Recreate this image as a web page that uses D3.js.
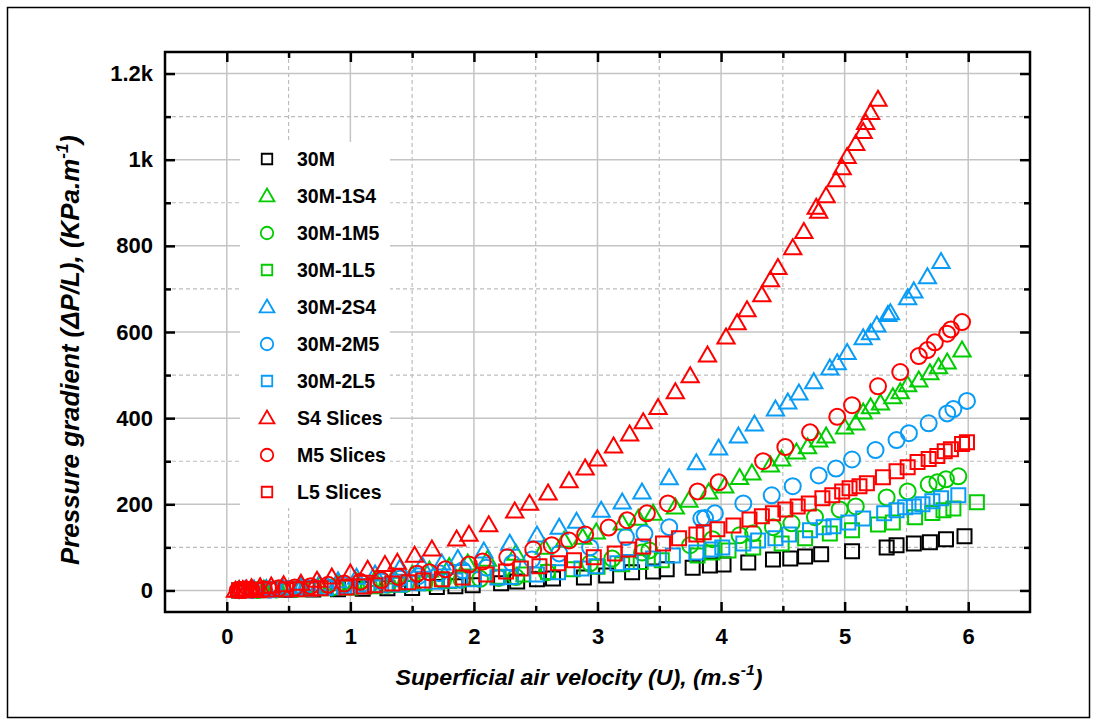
<!DOCTYPE html>
<html>
<head>
<meta charset="utf-8">
<script src="https://cdn.jsdelivr.net/npm/d3@7"></script>
<style>
  body { margin: 0; background: #fff; }
  svg { display: block; }
</style>
</head>
<body>
<svg id="chart" width="1097" height="724"></svg>
<script>
// Pressure gradient vs superficial air velocity, [U (m/s), dP/L (KPa/m)]
const s30M = [[0.1,0.2],[0.3,0.5],[0.5,1],[0.7,2],[0.9,3],[1.1,4],[1.3,5],[1.5,6],[1.7,8],[1.85,10],[1.99,12],[2.22,17],[2.35,21],[2.51,26],[2.64,28],[2.89,30],[3.07,35],[3.28,42],[3.45,44],[3.56,49],[3.77,53],[3.91,58],[4.02,60],[4.22,65],[4.42,72],[4.56,74],[4.68,79],[4.81,84],[5.06,91],[5.34,100],[5.42,105],[5.56,109],[5.69,112],[5.82,119],[5.97,126]];
const s30M1S4 = [[0.1,1],[0.2,2],[0.3,3],[0.45,5],[0.6,8],[0.75,11],[0.9,15],[1.05,20],[1.2,25],[1.35,31],[1.5,37],[1.64,47],[1.8,55],[1.95,63],[2.11,72],[2.34,86],[2.57,100],[2.73,116],[2.88,123],[2.99,135],[3.2,156],[3.33,167],[3.45,179],[3.63,193],[3.74,209],[3.9,228],[4.03,242],[4.15,262],[4.25,272],[4.4,291],[4.49,305],[4.61,321],[4.7,333],[4.79,349],[4.85,358],[5.0,379],[5.09,388],[5.15,414],[5.21,426],[5.29,435],[5.39,449],[5.45,461],[5.51,477],[5.6,488],[5.69,505],[5.76,519],[5.83,530],[5.95,558]];
const s30M1M5 = [[0.1,0.5],[0.25,1],[0.4,2],[0.55,3],[0.7,5],[0.85,7],[1.0,9],[1.15,11],[1.3,13],[1.45,16],[1.6,19],[1.75,23],[1.9,25],[2.05,27],[2.2,29],[2.34,31],[2.59,42],[2.94,63],[3.12,74],[3.36,88],[3.42,93],[3.75,105],[3.93,119],[4.15,128],[4.26,133],[4.42,147],[4.57,156],[4.76,170],[4.96,188],[5.09,195],[5.34,216],[5.51,230],[5.68,246],[5.75,251],[5.82,258],[5.92,265]];
const s30M1L5 = [[0.1,0.3],[0.25,0.8],[0.4,1.5],[0.6,3],[0.8,5],[1.0,7],[1.2,10],[1.4,13],[1.6,17],[1.8,22],[2.0,27],[2.2,32],[2.4,37],[2.6,43],[2.8,49],[3.0,55],[3.2,61],[3.35,66],[3.52,70],[3.81,81],[3.93,88],[4.06,93],[4.26,100],[4.49,109],[4.68,121],[4.88,132],[5.06,140],[5.27,153],[5.39,158],[5.57,170],[5.71,180],[5.8,186],[5.88,190],[6.07,205]];
const s30M2S4 = [[0.1,1],[0.15,2],[0.22,3],[0.32,4],[0.45,7],[0.6,10],[0.75,15],[0.9,22],[1.05,30],[1.2,38],[1.4,51],[1.58,58],[1.74,63],[1.87,74],[2.08,91],[2.29,109],[2.51,128],[2.69,146],[2.83,160],[3.03,186],[3.2,205],[3.36,228],[3.58,261],[3.8,296],[3.98,330],[4.14,358],[4.27,386],[4.44,421],[4.54,437],[4.63,458],[4.75,484],[4.88,516],[4.94,528],[5.02,552],[5.15,586],[5.21,598],[5.26,616],[5.35,640],[5.37,644],[5.51,679],[5.56,695],[5.67,728],[5.78,763]];
const s30M2M5 = [[0.1,0.5],[0.2,1],[0.35,2],[0.5,4],[0.65,6],[0.8,9],[0.95,12],[1.1,16],[1.25,21],[1.4,27],[1.55,33],[1.72,40],[1.91,47],[2.1,53],[2.31,63],[2.47,72],[2.69,86],[2.94,100],[3.23,124],[3.38,132],[3.58,147],[3.84,167],[3.87,168],[3.95,179],[4.18,202],[4.41,221],[4.58,242],[4.79,267],[4.93,283],[5.06,304],[5.25,326],[5.42,349],[5.52,365],[5.68,388],[5.83,411],[5.88,421],[5.99,440]];
const s30M2L5 = [[0.1,0.3],[0.2,0.8],[0.35,1.5],[0.5,3],[0.65,4],[0.8,6],[0.95,8],[1.1,10],[1.25,12],[1.4,14],[1.55,17],[1.7,20],[1.85,23],[2.0,26],[2.19,30],[2.3,31],[2.51,37],[2.68,42],[2.87,51],[2.99,56],[3.16,63],[3.27,66],[3.45,74],[3.61,81],[3.8,88],[3.92,95],[4.01,100],[4.18,109],[4.3,116],[4.44,121],[4.55,130],[4.72,140],[4.83,147],[4.91,149],[5.03,158],[5.15,167],[5.32,179],[5.42,186],[5.49,193],[5.56,195],[5.63,200],[5.71,207],[5.78,214],[5.92,221]];
const sS4Slices = [[0.07,0],[0.1,1],[0.13,2],[0.16,3],[0.2,6],[0.27,8],[0.36,10],[0.46,13],[0.6,16],[0.73,23],[0.85,31],[1.0,40],[1.14,49],[1.28,60],[1.38,65],[1.52,81],[1.66,96],[1.86,119],[1.96,130],[2.12,152],[2.33,184],[2.45,202],[2.6,226],[2.77,254],[2.9,284],[3.0,305],[3.13,335],[3.26,363],[3.37,391],[3.49,424],[3.63,461],[3.75,498],[3.89,546],[4.04,588],[4.13,621],[4.21,651],[4.33,686],[4.4,721],[4.46,749],[4.58,795],[4.67,833],[4.77,889],[4.79,880],[4.85,916],[4.93,953],[4.98,981],[5.02,1007],[5.09,1037],[5.15,1065],[5.17,1086],[5.21,1109],[5.27,1140]];
const sM5Slices = [[0.09,1],[0.12,1],[0.15,2],[0.2,2],[0.3,3],[0.42,5],[0.55,7],[0.68,10],[0.82,13],[0.95,16],[1.08,20],[1.25,24],[1.39,31],[1.54,39],[1.64,42],[1.77,49],[1.96,60],[2.07,67],[2.27,77],[2.48,95],[2.63,105],[2.77,116],[2.9,130],[3.09,146],[3.24,163],[3.4,179],[3.57,202],[3.81,230],[3.98,251],[4.34,300],[4.52,333],[4.72,367],[4.94,403],[5.06,430],[5.27,474],[5.45,507],[5.6,544],[5.67,558],[5.73,576],[5.83,596],[5.86,606],[5.95,623]];
const sL5Slices = [[0.1,0.5],[0.12,0.5],[0.14,1],[0.16,1],[0.19,1],[0.24,1],[0.34,2],[0.48,2],[0.57,3],[0.68,4],[0.76,5],[0.97,7],[1.11,9],[1.2,12],[1.34,16],[1.47,19],[1.59,23],[1.74,26],[1.91,30],[2.1,37],[2.26,44],[2.38,51],[2.53,56],[2.68,63],[2.81,70],[2.97,77],[3.14,86],[3.25,95],[3.37,102],[3.53,109],[3.66,121],[3.8,130],[3.86,135],[3.97,142],[4.1,151],[4.23,165],[4.33,172],[4.42,179],[4.52,188],[4.62,195],[4.71,202],[4.82,214],[4.9,221],[4.98,230],[5.04,237],[5.12,242],[5.18,249],[5.31,263],[5.42,277],[5.51,286],[5.59,298],[5.68,305],[5.75,312],[5.81,323],[5.86,328],[5.95,340],[5.99,344]];

const seriesNames  = ["30M","30M-1S4","30M-1M5","30M-1L5","30M-2S4","30M-2M5","30M-2L5","S4 Slices","M5 Slices","L5 Slices"];
const seriesData   = [s30M, s30M1S4, s30M1M5, s30M1L5, s30M2S4, s30M2M5, s30M2L5, sS4Slices, sM5Slices, sL5Slices];
const seriesColors = ["#000000","#00cc00","#00cc00","#00cc00","#089cf7","#089cf7","#089cf7","#ff0000","#ff0000","#ff0000"];
const seriesShapes = ["square","triangle","circle","square","triangle","circle","square","triangle","circle","square"];

const xTicks = [0,1,2,3,4,5,6];
const xMinorTicks = [0.5,1.5,2.5,3.5,4.5,5.5];
const yTicks = [0,200,400,600,800,1000,1200];
const yTickLabels = ["0","200","400","600","800","1k","1.2k"];
const yMinorTicks = [100,300,500,700,900,1100];

const FONT = "Arial, 'Liberation Sans', Helvetica, sans-serif";
const svg = d3.select("#chart");
const L = 165, R = 1030, T = 52, B = 612;

const x = d3.scaleLinear().domain([-0.5, 6.5]).range([L, R]);
const y = d3.scaleLinear().domain([-50, 1250]).range([B, T]);

// outer border
svg.append("rect").attr("x", 7.5).attr("y", 7.5).attr("width", 1082).attr("height", 710)
  .attr("fill", "none").attr("stroke", "#000").attr("stroke-width", 1.5);

// grid
const grid = svg.append("g");
grid.selectAll(".gx").data(xTicks).join("line")
  .attr("x1", d => x(d)).attr("x2", d => x(d)).attr("y1", T).attr("y2", B)
  .attr("stroke", "#c4c4c4").attr("stroke-width", 1.5);
grid.selectAll(".gxm").data(xMinorTicks).join("line")
  .attr("x1", d => x(d)).attr("x2", d => x(d)).attr("y1", T).attr("y2", B)
  .attr("stroke", "#bdbdbd").attr("stroke-width", 1.2).attr("stroke-dasharray", "4,3");
grid.selectAll(".gy").data(yTicks).join("line")
  .attr("y1", d => y(d)).attr("y2", d => y(d)).attr("x1", L).attr("x2", R)
  .attr("stroke", "#c4c4c4").attr("stroke-width", 1.5);
grid.selectAll(".gym").data(yMinorTicks).join("line")
  .attr("y1", d => y(d)).attr("y2", d => y(d)).attr("x1", L).attr("x2", R)
  .attr("stroke", "#bdbdbd").attr("stroke-width", 1.2).attr("stroke-dasharray", "4,3");

// legend background
svg.append("rect").attr("x", 240).attr("y", 142).attr("width", 150).attr("height", 366).attr("fill", "#fff");

// marker paths
function markerPath(shape, s) {
  if (shape === "square") {
    const h = s / 2;
    return `M${-h},${-h}H${h}V${h}H${-h}Z`;
  }
  if (shape === "circle") {
    const r = s / 2;
    return `M${r},0A${r},${r} 0 1,1 ${-r},0A${r},${r} 0 1,1 ${r},0Z`;
  }
  const w = s * 1.15 / 2, ht = s;
  return `M0,${-ht * 0.58}L${w},${ht * 0.42}L${-w},${ht * 0.42}Z`;
}
const plotSize = { square: 14, circle: 16, triangle: 15 };
const legendSize = { square: 10.5, circle: 12.5, triangle: 13 };

// series
const marks = svg.append("g");
seriesData.forEach((data, i) => {
  marks.append("g").selectAll("path").data(data).join("path")
    .attr("transform", d => `translate(${x(d[0])},${y(d[1])})`)
    .attr("d", markerPath(seriesShapes[i], plotSize[seriesShapes[i]]))
    .attr("fill", "none").attr("stroke", seriesColors[i]).attr("stroke-width", 2);
});

// axes with inward ticks
function styleAxis(g) {
  g.select(".domain").remove();
  g.selectAll(".tick line").attr("stroke", "#000").attr("stroke-width", 2.5);
  g.selectAll(".tick text").attr("font-family", FONT).attr("font-weight", "bold")
    .attr("font-size", 22).attr("fill", "#000");
}
svg.append("g").attr("transform", `translate(0,${B})`)
  .call(d3.axisBottom(x).tickValues(xTicks).tickFormat(d3.format("d")).tickSize(-10).tickPadding(16))
  .call(styleAxis);
svg.append("g").attr("transform", `translate(0,${B})`)
  .call(d3.axisBottom(x).tickValues(xMinorTicks).tickFormat("").tickSize(-6)).call(styleAxis);
svg.append("g").attr("transform", `translate(0,${T})`)
  .call(d3.axisTop(x).tickValues(xTicks).tickFormat("").tickSize(-10)).call(styleAxis);
svg.append("g").attr("transform", `translate(0,${T})`)
  .call(d3.axisTop(x).tickValues(xMinorTicks).tickFormat("").tickSize(-6)).call(styleAxis);
svg.append("g").attr("transform", `translate(${L},0)`)
  .call(d3.axisLeft(y).tickValues(yTicks).tickFormat((d, i) => yTickLabels[i]).tickSize(-10).tickPadding(12))
  .call(styleAxis);
svg.append("g").attr("transform", `translate(${L},0)`)
  .call(d3.axisLeft(y).tickValues(yMinorTicks).tickFormat("").tickSize(-6)).call(styleAxis);
svg.append("g").attr("transform", `translate(${R},0)`)
  .call(d3.axisRight(y).tickValues(yTicks).tickFormat("").tickSize(-10)).call(styleAxis);
svg.append("g").attr("transform", `translate(${R},0)`)
  .call(d3.axisRight(y).tickValues(yMinorTicks).tickFormat("").tickSize(-6)).call(styleAxis);

// frame
svg.append("rect").attr("x", L).attr("y", T).attr("width", R - L).attr("height", B - T)
  .attr("fill", "none").attr("stroke", "#000").attr("stroke-width", 2.5);

// legend
const leg = svg.append("g");
seriesNames.forEach((name, i) => {
  const cy = 159 + i * 37;
  leg.append("path").attr("transform", `translate(267,${cy})`)
    .attr("d", markerPath(seriesShapes[i], legendSize[seriesShapes[i]]))
    .attr("fill", "none").attr("stroke", seriesColors[i]).attr("stroke-width", 1.8);
  leg.append("text").attr("x", 297).attr("y", cy).attr("dy", "0.36em")
    .attr("font-family", FONT).attr("font-weight", "bold").attr("font-size", 19.5)
    .attr("fill", "#000").text(name);
});

// axis titles
const xt = svg.append("text").attr("x", 579).attr("y", 685).attr("text-anchor", "middle")
  .attr("font-family", FONT).attr("font-weight", "bold").attr("font-style", "italic")
  .attr("font-size", 22).attr("textLength", 367).attr("lengthAdjust", "spacingAndGlyphs")
  .attr("fill", "#000");
xt.append("tspan").text("Superficial air velocity (U), (m.s");
xt.append("tspan").attr("dy", -10).attr("font-size", 15).text("-1");
xt.append("tspan").attr("dy", 10).text(")");

const yt = svg.append("text").attr("transform", `translate(79,350) rotate(-90)`)
  .attr("text-anchor", "middle")
  .attr("font-family", FONT).attr("font-weight", "bold").attr("font-style", "italic")
  .attr("font-size", 26).attr("textLength", 430).attr("lengthAdjust", "spacingAndGlyphs")
  .attr("fill", "#000");
yt.append("tspan").text("Pressure gradient (ΔP/L), (KPa.m");
yt.append("tspan").attr("dy", -11).attr("font-size", 17).text("-1");
yt.append("tspan").attr("dy", 11).text(")");
</script>
</body>
</html>
